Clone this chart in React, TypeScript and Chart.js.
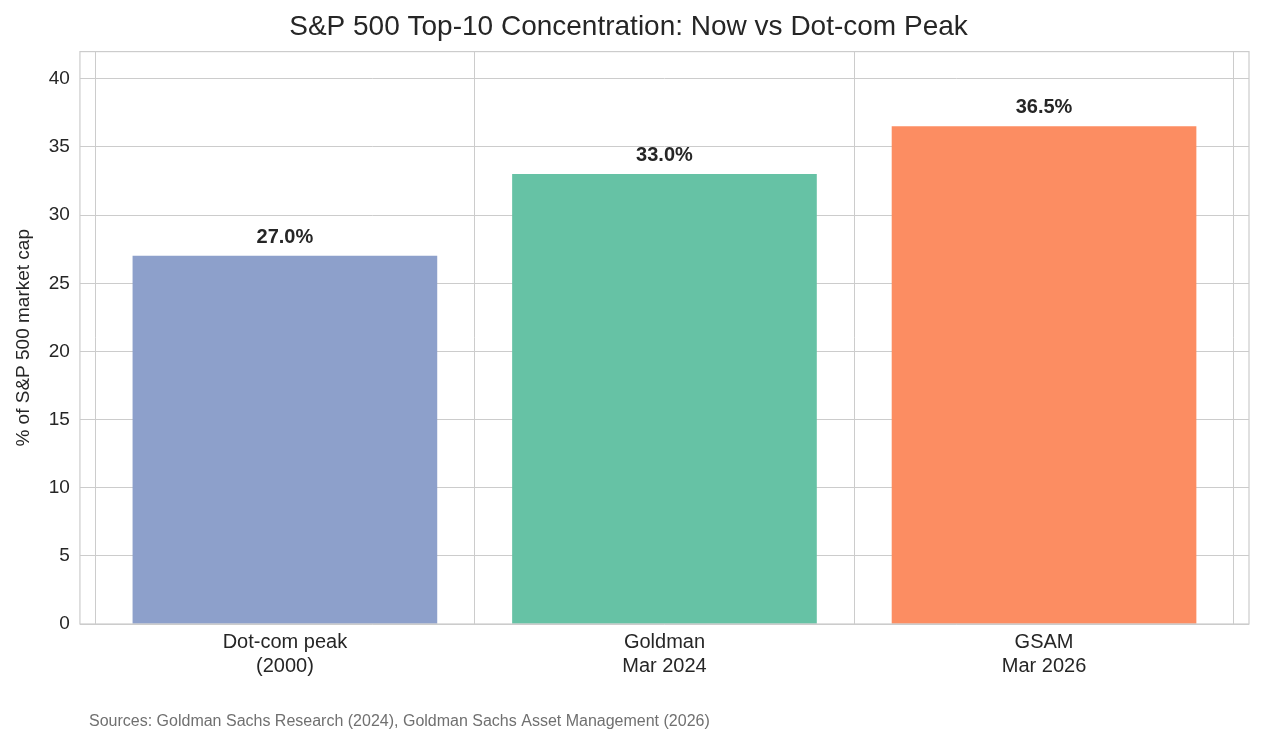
import React, { useEffect, useRef } from "react";
import { Chart, registerables } from "chart.js";
Chart.register(...registerables);

const categories = [["Dot-com peak", "(2000)"], ["Goldman", "Mar 2024"], ["GSAM", "Mar 2026"]];
const values = [27.0, 33.0, 36.5];
const colors = ["#8da0cb", "#66c2a5", "#fc8d62"];
const yTicks = [0, 5, 10, 15, 20, 25, 30, 35, 40];
const FONT = "'Liberation Sans', Arial, sans-serif";

const extras = {
  id: "extras",
  afterDatasetsDraw(chart: any) {
    const { ctx, chartArea: a } = chart;
    ctx.save();
    ctx.strokeStyle = "#cccccc";
    ctx.lineWidth = 1.2;
    ctx.strokeRect(a.left, a.top, a.right - a.left, a.bottom - a.top);
    const meta = chart.getDatasetMeta(0);
    ctx.font = `bold 20px ${FONT}`;
    ctx.fillStyle = "#262626";
    ctx.textAlign = "center";
    ctx.textBaseline = "bottom";
    meta.data.forEach((b: any, i: number) => {
      ctx.fillText(values[i].toFixed(1) + "%", b.x, b.y - 9);
    });
    ctx.font = `16px ${FONT}`;
    ctx.fillStyle = "#707070";
    ctx.textAlign = "left";
    ctx.textBaseline = "middle";
    ctx.fillText("Sources: Goldman Sachs Research (2024), Goldman Sachs Asset Management (2026)", 89, 722);
    ctx.restore();
  },
};

export default function App() {
  const ref = useRef<HTMLCanvasElement>(null);
  useEffect(() => {
    const chart = new Chart(ref.current!, {
      type: "bar",
      data: {
        datasets: [{
          data: values.map((v, i) => ({ x: i, y: v })),
          backgroundColor: colors,
          barThickness: 304,
        }],
      },
      options: {
        animation: false,
        responsive: false,
        devicePixelRatio: 1,
        layout: { padding: { left: 8, right: 14, top: 2, bottom: 66 } },
        plugins: {
          legend: { display: false },
          tooltip: { enabled: false },
          title: {
            display: true,
            text: "S&P 500 Top-10 Concentration: Now vs Dot-com Peak",
            font: { family: FONT, size: 28, weight: "normal" },
            color: "#262626",
            padding: { top: 8, bottom: 8 },
          },
        },
        scales: {
          x: {
            type: "linear",
            min: -0.54,
            max: 2.54,
            offset: false,
            afterBuildTicks: (s: any) => { s.ticks = categories.map((_, i) => ({ value: i })); },
            grid: { color: "#cccccc", drawTicks: false },
            border: { display: false },
            ticks: {
              color: "#262626",
              font: { family: FONT, size: 20 },
              padding: 6,
              maxRotation: 0,
              callback: (v: any) => categories[v] as any,
            },
          },
          y: {
            min: 0,
            max: 42,
            afterBuildTicks: (s: any) => { s.ticks = yTicks.map((v) => ({ value: v })); },
            grid: { color: "#cccccc", drawTicks: false },
            border: { display: false },
            ticks: { color: "#262626", font: { family: FONT, size: 19 }, padding: 10 },
            title: { display: true, text: "% of S&P 500 market cap", color: "#262626", font: { family: FONT, size: 19 } },
          },
        },
      },
      plugins: [extras],
    });
    return () => chart.destroy();
  }, []);
  return (
    <div style={{ position: "absolute", left: 0, top: 0, width: 1263, height: 750, background: "#fff" }}>
      <canvas ref={ref} width={1263} height={750} />
    </div>
  );
}
